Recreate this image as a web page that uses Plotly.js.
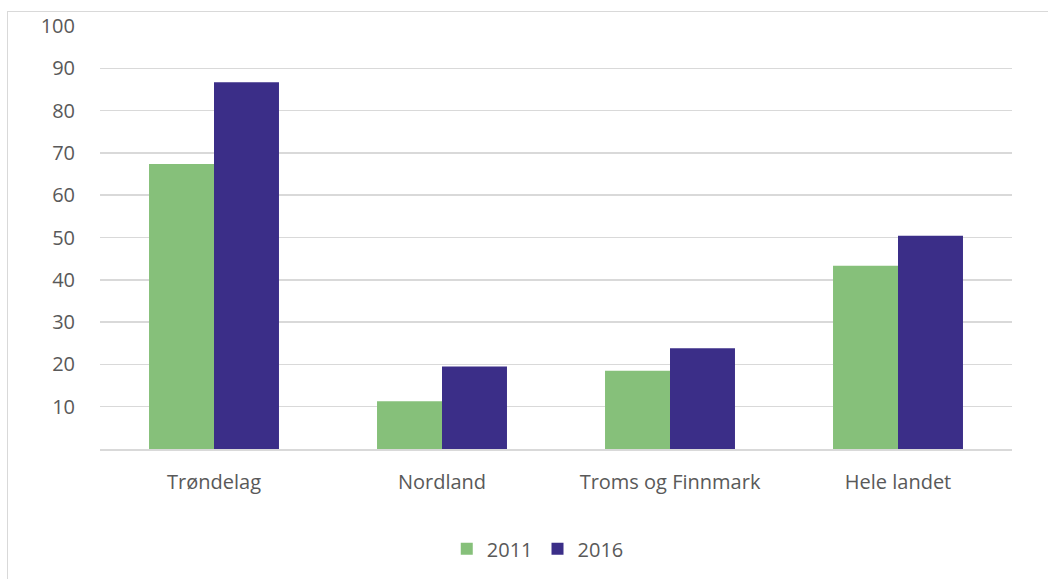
<!DOCTYPE html>
<html>
<head>
<meta charset="utf-8">
<script src="https://cdn.plot.ly/plotly-3.0.1.min.js"></script>
<style>
  html, body { margin: 0; padding: 0; background: #ffffff; }
  #frame { position: absolute; left: 7px; top: 11px; width: 1100px; height: 700px;
           border-left: 1.5px solid #d9d9d9; border-top: 1.5px solid #d9d9d9; }
  #chart { position: absolute; left: 0; top: 0; width: 1048px; height: 579px; }
</style>
</head>
<body>
<div id="frame"></div>
<div id="chart"></div>
<script>
const categories = ["Trøndelag", "Nordland", "Troms og Finnmark", "Hele landet"];
const values2011 = [67.4, 11.3, 18.5, 43.3];
const values2016 = [86.7, 19.5, 23.8, 50.4];
const seriesNames = ["2011", "2016"];
const yTicks = [10, 20, 30, 40, 50, 60, 70, 80, 90, 100];

const fontFamily = "'Open Sans', sans-serif";

const traces = [
  { type: "bar", name: seriesNames[0], x: categories, y: values2011,
    marker: { color: "#86c07a", line: { width: 0 } }, hoverinfo: "skip" },
  { type: "bar", name: seriesNames[1], x: categories, y: values2016,
    marker: { color: "#3b2e88", line: { width: 0 } }, hoverinfo: "skip" }
];

const layout = {
  width: 1048, height: 579,
  margin: { l: 100, r: 36, t: 26, b: 129 },
  paper_bgcolor: "rgba(0,0,0,0)",
  plot_bgcolor: "rgba(0,0,0,0)",
  barmode: "group",
  bargap: 0.43,
  bargroupgap: 0,
  font: { family: fontFamily, size: 20, color: "#595959" },
  xaxis: {
    showline: true, linecolor: "#d9d9d9", linewidth: 1.5,
    showgrid: false, zeroline: false, ticks: "",
    ticklabelstandoff: 14,
    tickfont: { family: fontFamily, size: 20, color: "#595959" }
  },
  yaxis: {
    range: [0, 100], tickvals: yTicks, ticktext: yTicks.map(String),
    showgrid: true, gridcolor: "#d9d9d9", gridwidth: 1.5,
    zeroline: false, showline: false, ticks: "",
    ticklabelstandoff: 24,
    tickfont: { family: fontFamily, size: 20, color: "#595959" }
  },
  showlegend: true,
  legend: {
    orientation: "h", x: 0.48, xanchor: "center", y: -0.233, yanchor: "middle",
    font: { family: fontFamily, size: 20, color: "#595959" },
    itemwidth: 30, tracegroupgap: 0
  }
};

Plotly.newPlot("chart", traces, layout, { staticPlot: true, displayModeBar: false });
</script>
</body>
</html>
